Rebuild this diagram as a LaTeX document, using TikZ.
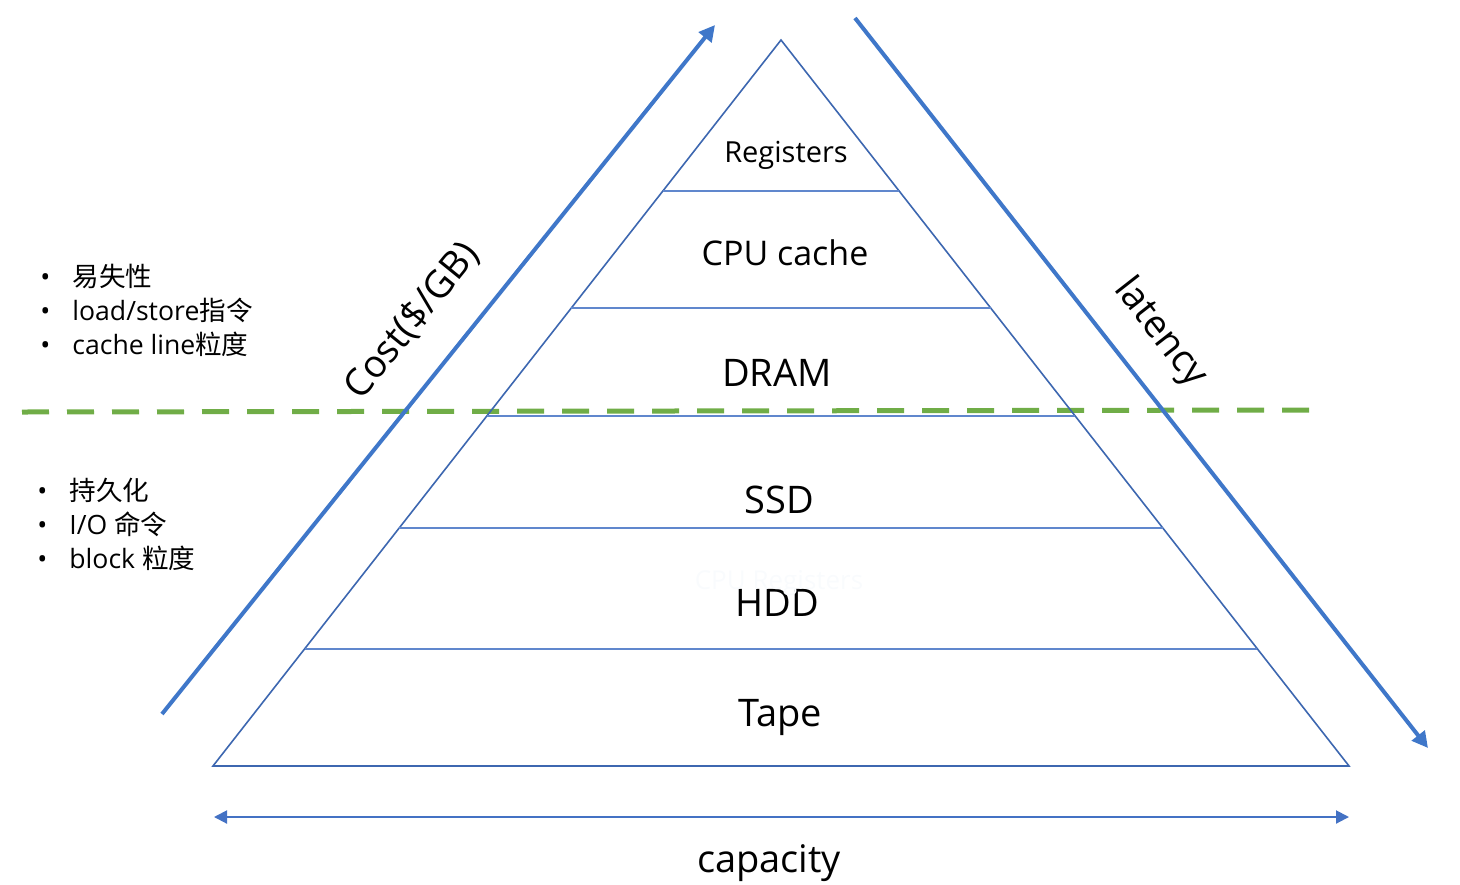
\documentclass[tikz,border=0pt]{standalone}
\usepackage{fontspec}
\setmainfont{Open Sans}
\newfontfamily\cjk{Noto Sans CJK SC}
\usetikzlibrary{arrows.meta}

\definecolor{layerblue}{HTML}{4472C4}
\definecolor{arrowblue}{HTML}{3F77C9}
\definecolor{splitgreen}{HTML}{70AD47}

\tikzset{
  layer/.style={inner sep=0pt, font=\fontsize{19}{19}\selectfont},
  item/.style={anchor=west, inner sep=0pt, font=\fontsize{13.3}{13.3}\selectfont},
  trend/.style={arrowblue, line width=2pt, -{Triangle[length=8pt,width=8pt]}},
}

\begin{document}
\begin{tikzpicture}[line cap=butt,line join=miter,x=0.5pt,y=-0.5pt]

\def\ax{781} %apex x
\def\ay{40} %apex y
\def\by{766} %base y
\def\sl{0.7824} %half width per unit of height

\useasboundingbox (0,0) rectangle (1460,884);

%split between volatile and persistent
\draw[splitgreen, line width=2.5pt, dash pattern=on 13.5pt off 9pt] (22,412) coordinate (gl) -- (1316,410) coordinate (gr);

%pyramid
\draw[layerblue!90!black, line width=0.8pt] (\ax,\ay) coordinate (apex)
  -- ({\ax-\sl*(\by-\ay)},\by) coordinate (bl)
  -- ({\ax+\sl*(\by-\ay)},\by) coordinate (br) -- cycle;

%layer lines
\foreach \y in {191,308,416,528,649}
  \draw[layerblue!85, line width=0.7pt] ({\ax-\sl*(\y-\ay)},\y) -- ({\ax+\sl*(\y-\ay)},\y);

%layer names
\node[layer, font=\fontsize{14.5}{14.5}\selectfont] (reg) at (786,155) {Registers};
\node[layer, font=\fontsize{17}{17}\selectfont] (cpu) at (785,253) {CPU cache};
\node[layer] (dram) at (777,373) {DRAM};
\node[layer] (ssd) at (779,500) {SSD};
\node[layer] (hdd) at (777,603) {HDD};
\node[layer] (tape) at (780,717) {Tape};
\node[layer, font=\fontsize{13}{13}\selectfont, text=layerblue!3] (ghost) at (779,583) {CPU Registers}; %faint leftover

%cost and latency
\coordinate (c0) at (162,714);
\coordinate (c1) at (715,25);
\draw[trend] (c0) -- (c1);
\node[layer, rotate=51] (cost) at (412,321) {Cost(\$/GB)};

\coordinate (l0) at (855,18);
\coordinate (l1) at (1428,748);
\draw[trend] (l0) -- (l1);
\node[layer, rotate=-52] (lat) at (1160,333) {latency};

%capacity
\coordinate (k0) at (214,817);
\coordinate (k1) at (1349,817);
\draw[layerblue, line width=1pt, {Triangle[length=6.5pt,width=6.5pt]}-{Triangle[length=6.5pt,width=6.5pt]}] (k0) -- (k1);
\node[layer] (cap) at (769,863) {capacity};

%properties
\foreach \txt [count=\i] in {{{\cjk 易失性}}, {load/store{\cjk 指令}}, {cache line{\cjk 粒度}}}
  \node[item] (up\i) at (40,242+34*\i) {•\hspace{11pt}\txt};
\foreach \txt [count=\i] in {{{\cjk 持久化}}, {I/O {\cjk 命令}}, {block {\cjk 粒度}}}
  \node[item] (lo\i) at (37,456+34*\i) {•\hspace{11pt}\txt};

\end{tikzpicture}
\end{document}
